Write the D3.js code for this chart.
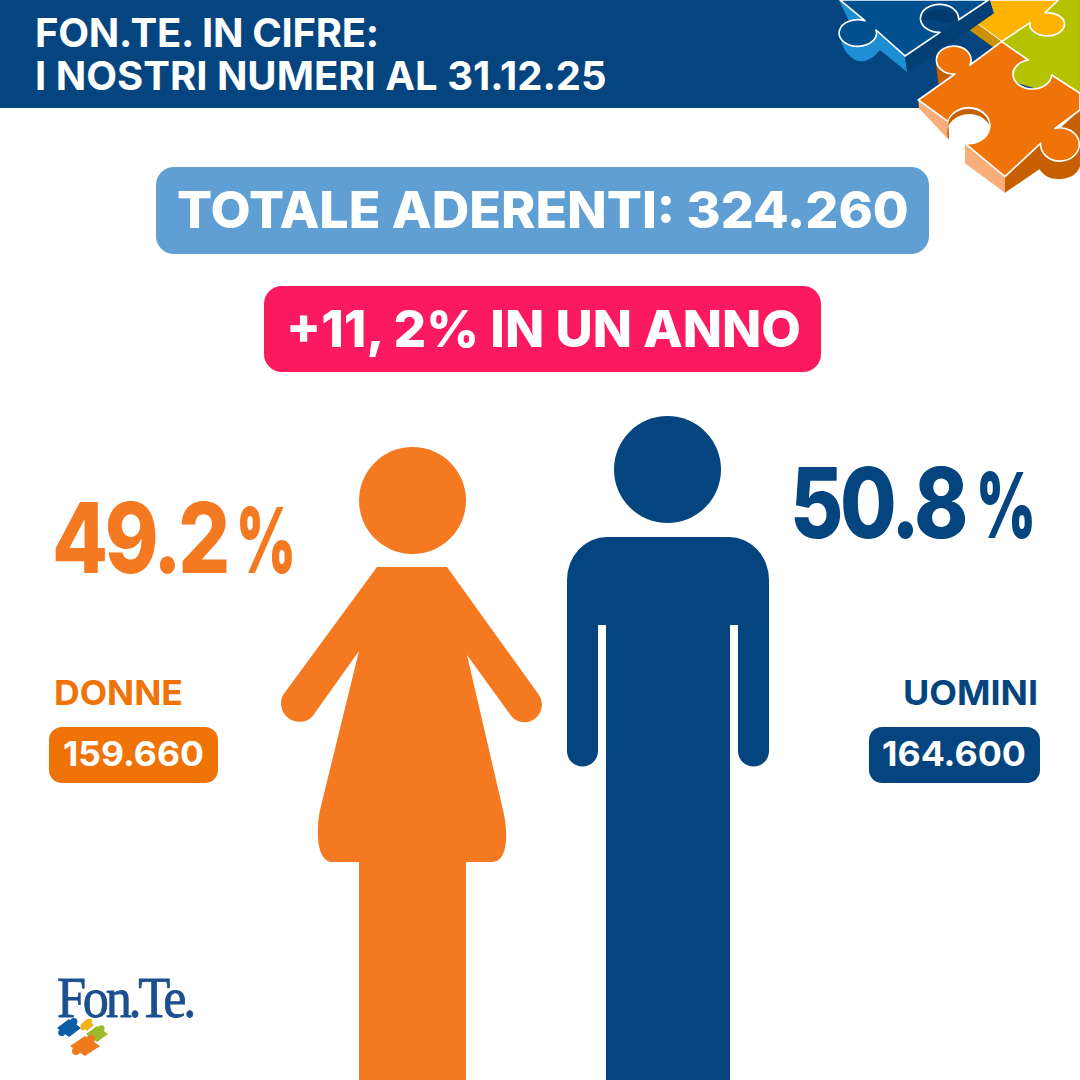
<!DOCTYPE html>
<html>
<head>
<meta charset="utf-8">
<script src="https://cdn.jsdelivr.net/npm/d3@7"></script>
<style>
  html, body { margin: 0; padding: 0; background: #fff; }
  svg { display: block; }
  text { font-family: Inter, sans-serif; font-weight: 700; }
</style>
</head>
<body>
<svg id="chart" width="1080" height="1080"></svg>
<script>
const titleLines = ["FON.TE. IN CIFRE:", "I NOSTRI NUMERI AL 31.12.25"];
const totalMembers = 324260;
const totalLabel = "TOTALE ADERENTI: ";
const growthLabel = "+11, 2% IN UN ANNO";
const categories = ["DONNE", "UOMINI"];
const percentages = [49.2, 50.8];
const members = [159660, 164600];
const logoText = "Fon.Te.";

const NAVY = "#04457f";
const ORANGE_ICON = "#f47920";
const ORANGE = "#ef7306";

const fmt = d3.formatLocale({ decimal: ",", thousands: ".", grouping: [3], currency: ["", "€"] }).format(",d");

// head top of each figure follows its share
const headTop = d3.scaleLinear().domain(percentages).range([447, 416]);

const svg = d3.select("#chart");

// text scaled sideways to the measured width
function label(x, y, size, width, fill, str, weight, spacing, family) {
    const t = svg.append("text")
        .attr("font-size", size)
        .attr("fill", fill)
        .attr("letter-spacing", spacing || 0)
        .style("font-weight", weight || 700)
        .style("font-family", family || null)
        .text(str);
    const k = width / t.node().getComputedTextLength();
    t.attr("transform", `translate(${x},${y}) scale(${k},1)`);
    return t;
}

// header
svg.append("rect").attr("width", 1080).attr("height", 108).attr("fill", NAVY);
svg.append("text").attr("font-size", 40).attr("fill", "#fff")
    .selectAll("tspan").data(titleLines).enter().append("tspan")
    .attr("x", 35)
    .attr("y", (d, i) => 47 + i * 43)
    .attr("letter-spacing", (d, i) => i === 0 ? -0.3 : 0)
    .text(d => d);

// puzzle, drawn in zoomed coordinates (3x from x=800)
const puzzleShapes = [
    // green
    ["M775 0 L840 0 L840 290 L755 280 L620 240 L600 130 L690 68 Z", "#b5c200", 0],
    // yellow
    ["M568 0 L775 0 L735 38 A52 35 0 1 1 690 68 L605 125 L530 70 L578 35 Z", "#fdb300", 1],
    ["M505 88 L530 70 L605 125 L580 142 Z", "#cc9000", 0],
    // blue sides
    ["M120 105 Q125 155 165 180 Q205 195 240 150 L322 217 L315 168 L228 90 Z", "#1d8ed1", 0],
    ["M118 3 L195 62 L148 65 Z", "#1d8ed1", 0],
    ["M315 168 L322 217 L425 150 L510 90 L582 40 L570 0 L475 60 L420 97 Z", "#033f74", 0],
    // blue top
    ["M120 0 L195 62 A56 40 0 1 0 228 90 L315 168 L420 97 A57 42 0 1 1 475 60 L565 0 Z", "#00508f", 1],
    ["M364 60 A57 42 0 0 1 475 60 L440 72 Q400 55 364 60 Z", "#003a6e", 0],
    // orange sides
    ["M355 300 L357 325 L447 420 L445 365 Z", "#f9ad78", 0],
    ["M495 430 L495 490 L615 578 L615 530 Z", "#f9ad78", 0],
    ["M615 530 L615 578 L718 508 Q740 540 780 537 Q825 535 840 500 L840 330 L780 385 L722 430 Z", "#c55f00", 0],
    ["M408 190 L415 252 L470 222 L440 190 Z", "#c55f00", 0],
    // orange top
    ["M355 300 L465 222 A52 42 0 1 1 510 195 L605 125 L685 180 A58 44 0 1 0 755 225 L840 280 L840 330 L765 385 A58 50 0 1 1 722 430 L615 530 L495 430 A63 54 0 1 0 445 365 Z", "#ef7306", 1],
    ["M445 365 A63 54 0 0 1 568 375 A60 50 0 0 0 447 420 Z", "#c55f00", 0]
];
svg.append("g").attr("transform", "translate(800,0) scale(0.3333)")
    .selectAll("path").data(puzzleShapes).enter().append("path")
    .attr("d", d => d[0])
    .attr("fill", d => d[1])
    .attr("stroke", d => d[2] ? "#fff" : "none")
    .attr("stroke-width", 5)
    .attr("stroke-linejoin", "round");

// pills
function pill(x, y, w, h, r, fill) {
    svg.append("rect").attr("x", x).attr("y", y).attr("width", w).attr("height", h)
        .attr("rx", r).attr("fill", fill);
}
pill(156, 167, 773, 87, 18, "#5f9fd4");
label(177, 228, 51, 732, "#fff", totalLabel + fmt(totalMembers), 800);

pill(264, 286, 557, 86, 18, "#fb1a5f");
label(286, 347, 51, 515, "#fff", growthLabel, 800);

// woman
const woman = svg.append("g").attr("fill", ORANGE_ICON);
woman.append("circle").attr("cx", 412.5).attr("cy", headTop(percentages[0]) + 53.5).attr("r", 53.5);
woman.append("path").attr("d",
    "M377 567 L447 567 L539 695 A17.5 17.5 0 0 1 512 717 L467 655 L503 810 C508 830 509 862 492 862" +
    " L466 862 L466 1080 L359 1080 L359 862 L333 862 C316 862 316 830 320 810 L359 651 L312 717 A18.5 18.5 0 0 1 283 695 Z");

// man
const man = svg.append("g").attr("fill", NAVY);
man.append("circle").attr("cx", 667.5).attr("cy", headTop(percentages[1]) + 53.5).attr("r", 53.5);
man.append("path").attr("d",
    "M607 537 L729 537 A40 43 0 0 1 769 580 L769 751 A15.5 15.5 0 0 1 738 751 L738 625 L730 625 L730 1080 L606 1080 L606 625 L598 625" +
    " L598 751 A15.5 15.5 0 0 1 567 751 L567 580 A40 43 0 0 1 607 537 Z");

// percentages
const pctX = [52, 790];
const pctY = [573, 538];
const pctColor = [ORANGE_ICON, NAVY];
const signX = [236, 976];
percentages.forEach((p, i) => {
    label(pctX[i], pctY[i], 98, 175, pctColor[i], p.toFixed(1), 800, -4);
    label(signX[i], pctY[i], 90, 60, pctColor[i], "%", 900);
});

// category labels and counts
const catColor = [ORANGE, NAVY];
const catX = [54, 903];
const catW = [129, 135];
const boxX = [49, 869];
const boxW = [169, 171];
const numX = [63, 882];
const numW = [141, 144];
categories.forEach((c, i) => {
    label(catX[i], 705, 34, catW[i], catColor[i], c);
    pill(boxX[i], 727, boxW[i], 56, 13, catColor[i]);
    label(numX[i], 766, 34, numW[i], "#fff", fmt(members[i]));
});

// logo
label(57, 1017, 56, 136, "#1b4f8e", logoText, 400, -3.5, "'Liberation Serif', serif")
    .attr("stroke", "#1b4f8e").attr("stroke-width", 0.8);

const logoPieces = [
    [69, 1028, 12, 9, "#0b5ca6"],
    [87, 1025, 7, 6, "#f5b21a"],
    [97, 1034, 11, 8, "#9bbb2c"],
    [85, 1046, 15, 10, "#ef7a1e"]
];
const logo = svg.append("g");
logo.selectAll("path").data(logoPieces).enter().append("path")
    .attr("d", d => `M${d[0] - d[2]} ${d[1]} L${d[0]} ${d[1] - d[3]} L${d[0] + d[2]} ${d[1]} L${d[0]} ${d[1] + d[3]} Z`)
    .attr("fill", d => d[4]);
logo.selectAll("circle.a").data(logoPieces).enter().append("circle")
    .attr("class", "a")
    .attr("cx", d => d[0] - d[2] * 0.6).attr("cy", d => d[1] + d[3] * 0.5).attr("r", d => d[3] * 0.4)
    .attr("fill", d => d[4]);
logo.selectAll("circle.b").data(logoPieces).enter().append("circle")
    .attr("class", "b")
    .attr("cx", d => d[0] + d[2] * 0.4).attr("cy", d => d[1] - d[3] * 0.7).attr("r", d => d[3] * 0.4)
    .attr("fill", d => d[4]);
</script>
</body>
</html>
